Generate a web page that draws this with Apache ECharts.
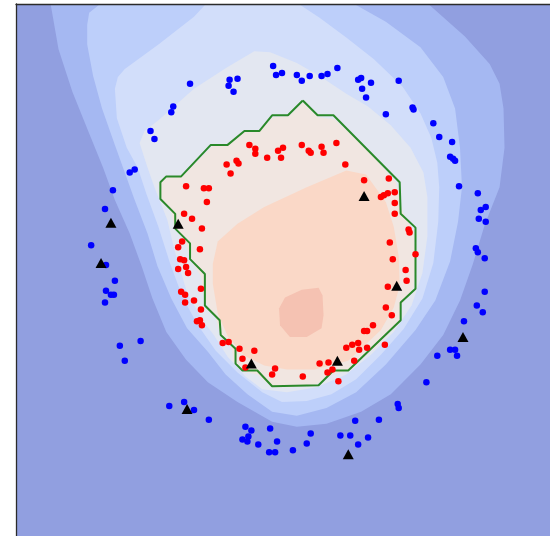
<!DOCTYPE html>
<html>
<head>
<meta charset="utf-8">
<script src="https://cdn.jsdelivr.net/npm/echarts@6/dist/echarts.min.js"></script>
<style>
  html, body { margin: 0; padding: 0; background: #ffffff; }
  #chart { width: 550px; height: 536px; }
</style>
</head>
<body>
<div id="chart"></div>
<script>
// Outer ring samples (class 0)
const bluePoints = [
  [176,459],[216,463],[224,464],[215,457],[220,451],[159,436],[157,430],[136,411],[140,403],
  [120,372],[115,369],[98,351],[90,332],[76,295],[91,275],[100,259],[91,249],[96,245],[99,245],
  [90,237],[126,198],[105,193],[110,178],[155,132],[170,136],[180,128],[195,118],[232,111],
  [238,107],[235,101],[229,98],[234,96],[245,93],[257,109],[264,96],[256,85],[262,85],[280,87],
  [294,94],[298,104],[328,102],[338,102],[343,117],[346,93],[356,100],[367,118],[386,134],
  [387,130],[415,156],[426,183],[439,189],[444,189],[446,183],[453,218],[466,234],[472,227],
  [474,248],[465,292],[467,288],[474,282],[468,322],[475,319],[470,331],[475,334],[467,348],
  [448,355],[439,385],[442,383],[444,381],[441,400],[428,405],[422,419],[401,435],[402,433],
  [374,428],[387,462],[359,460],[354,445],[350,454],[346,463],[349,465],[325,475],[315,469],
  [309,467],[297,467],[289,462],[284,468],[269,470],[263,468],[260,477]
];

// Inner ring samples (class 1)
const redPoints = [
  [236,397],[242,393],[242,388],[254,384],[213,377],[223,381],[225,378],[217,368],[265,391],
  [270,394],[268,384],[289,397],[296,391],[298,389],[309,395],[311,389],[324,399],[333,377],
  [352,361],[377,363],[369,344],[372,346],[376,348],[383,349],[383,338],[383,327],[397,311],
  [398,308],[378,298],[404,286],[381,281],[394,270],[395,259],[376,253],[374,232],[380,224],
  [361,214],[352,208],[355,208],[373,194],[346,196],[340,194],[334,191],[347,189],[355,191],
  [342,178],[326,157],[320,169],[315,166],[316,176],[307,175],[290,162],[262,170],[259,164],
  [232,171],[229,180],[241,188],[226,190],[215,197],[209,196],[188,214],[186,219],[183,218],
  [187,230],[180,239],[171,237],[171,245],[167,248],[187,251],[174,267],[172,273],[164,271],
  [170,280],[166,281],[186,291],[164,293],[168,299],[188,312],[178,322],[170,327],[193,339],
  [190,353],[195,353],[172,355]
];

// Highlighted samples (triangles)
const markedPoints = [
  [96,318],[86,277],[164,317],[352,345],[385,254],[325,178],[238,175],[173,129],[336,83],[452,202]
];

// Decision boundary (level 0), closed polyline
const boundary = [
  [290,442],[305,427],[321,427],[388,359],[389,327],[404,313],[404,251],[389,237],[389,219],
  [336,168],[321,168],[306,153],[259,152],[244,168],[229,168],[222,175],[222,190],[207,204],
  [206,219],[191,234],[191,266],[176,281],[176,297],[161,312],[161,327],[146,342],[146,359],
  [152,365],[167,365],[197,397],[214,397],[231,411],[246,411],[259,427],[275,427],[290,442]
];

// Filled contour levels, from the outermost band inwards
const levelA = [
  [35,540],[43,494],[57,451],[73,411],[88,374],[100,341],[115,307],[127,274],[138,241],[152,207],
  [172,179],[194,156],[224,136],[259,116],[284,111],[314,114],[349,126],[379,144],[409,174],
  [432,204],[449,239],[462,276],[474,316],[489,354],[494,394],[493,434],[489,459],[479,479],
  [454,507],[417,540]
];
const levelB = [
  [85,540],[74,531],[72,519],[72,499],[78,467],[87,434],[100,397],[110,369],[120,341],[133,307],
  [143,274],[157,241],[173,211],[194,187],[212,164],[234,144],[259,126],[284,122],[314,130],
  [344,146],[374,174],[404,209],[424,239],[439,279],[447,319],[451,354],[449,394],[444,434],
  [432,466],[409,496],[374,522],[342,540]
];
const levelC = [
  [192,540],[180,527],[144,499],[110,474],[103,466],[100,454],[102,424],[112,394],[123,374],
  [132,347],[144,314],[156,276],[169,241],[184,214],[202,188],[224,166],[249,146],[269,136],
  [294,137],[319,144],[344,159],[369,184],[392,210],[411,241],[422,277],[427,319],[428,354],
  [426,379],[420,404],[409,429],[391,456],[362,484],[334,506],[307,526],[286,540]
];
const levelD = [
  [125,399],[130,411],[144,422],[180,454],[214,476],[241,492],[257,491],[284,480],[307,467],
  [334,449],[356,436],[379,417],[399,394],[412,369],[416,344],[416,304],[411,267],[400,234],
  [382,207],[359,184],[334,164],[304,151],[274,146],[249,149],[232,162],[214,182],[200,204],
  [190,217],[173,247],[160,291],[153,321],[140,354],[133,374]
];
const levelE = [
  [290,440],[306,425],[322,423],[354,394],[384,359],[391,329],[402,309],[404,279],[402,252],
  [389,234],[387,216],[364,192],[336,168],[320,164],[304,154],[279,151],[259,151],[244,164],
  [229,167],[220,178],[218,192],[206,206],[202,222],[191,238],[187,264],[176,281],[172,297],
  [160,314],[157,329],[146,344],[144,358],[154,365],[169,366],[199,396],[216,398],[232,411],
  [246,411],[260,425],[276,426]
];
const levelF = [
  [334,371],[354,367],[374,339],[382,314],[387,284],[388,254],[382,232],[369,209],[336,178],
  [302,169],[274,169],[251,173],[231,183],[214,203],[204,226],[199,256],[199,276],[204,299],
  [224,317],[251,334],[294,354]
];
const levelG = [
  [272,242],[289,250],[306,252],[310,244],[311,224],[309,211],[294,202],[277,202],[267,214],[266,231]
];

const levels = [
  { name: 'A', pts: levelA, color: '#a5b8f2' },
  { name: 'B', pts: levelB, color: '#bdcffa' },
  { name: 'C', pts: levelC, color: '#d2defa' },
  { name: 'D', pts: levelD, color: '#e3e7f1' },
  { name: 'E', pts: levelE, color: '#f1e6e1' },
  { name: 'F', pts: levelF, color: '#fad8c7' },
  { name: 'G', pts: levelG, color: '#f5c2b2' }
];

function levelSeries(level) {
  return {
    type: 'custom',
    name: level.name,
    silent: true,
    animation: false,
    data: [[0, 0]],
    renderItem: function (params, api) {
      return {
        type: 'polygon',
        shape: { points: level.pts.map(function (p) { return api.coord(p); }) },
        style: { fill: level.color, stroke: null }
      };
    },
    z: 1
  };
}

const chart = echarts.init(document.getElementById('chart'), null, { renderer: 'canvas' });

const hiddenAxis = {
  type: 'value',
  min: 0,
  max: 540,
  axisTick: { show: false },
  axisLabel: { show: false },
  splitLine: { show: false },
  axisLine: { show: true, onZero: false, lineStyle: { color: '#2b2b2b', width: 1.3 } },
  z: 10
};

chart.setOption({
  animation: false,
  backgroundColor: '#ffffff',
  grid: {
    show: true,
    left: 16, top: 4, width: 540, height: 540,
    backgroundColor: '#919fe0',
    borderWidth: 0
  },
  xAxis: Object.assign({ position: 'top' }, hiddenAxis),
  yAxis: Object.assign({ position: 'left' }, hiddenAxis),
  series: levels.map(levelSeries).concat([
    {
      type: 'line',
      name: 'boundary',
      data: boundary,
      symbol: 'none',
      silent: true,
      lineStyle: { color: '#2a892a', width: 2 },
      z: 3
    },
    {
      type: 'scatter',
      name: 'outer',
      data: bluePoints,
      symbol: 'circle',
      symbolSize: 6.5,
      itemStyle: { color: '#0000ff', opacity: 1 },
      silent: true,
      z: 4
    },
    {
      type: 'scatter',
      name: 'inner',
      data: redPoints,
      symbol: 'circle',
      symbolSize: 6.5,
      itemStyle: { color: '#ff0000', opacity: 1 },
      silent: true,
      z: 4
    },
    {
      type: 'scatter',
      name: 'marked',
      data: markedPoints,
      symbol: 'triangle',
      symbolSize: [11, 10],
      itemStyle: { color: '#000000', opacity: 1 },
      silent: true,
      z: 5
    }
  ])
});
</script>
</body>
</html>
